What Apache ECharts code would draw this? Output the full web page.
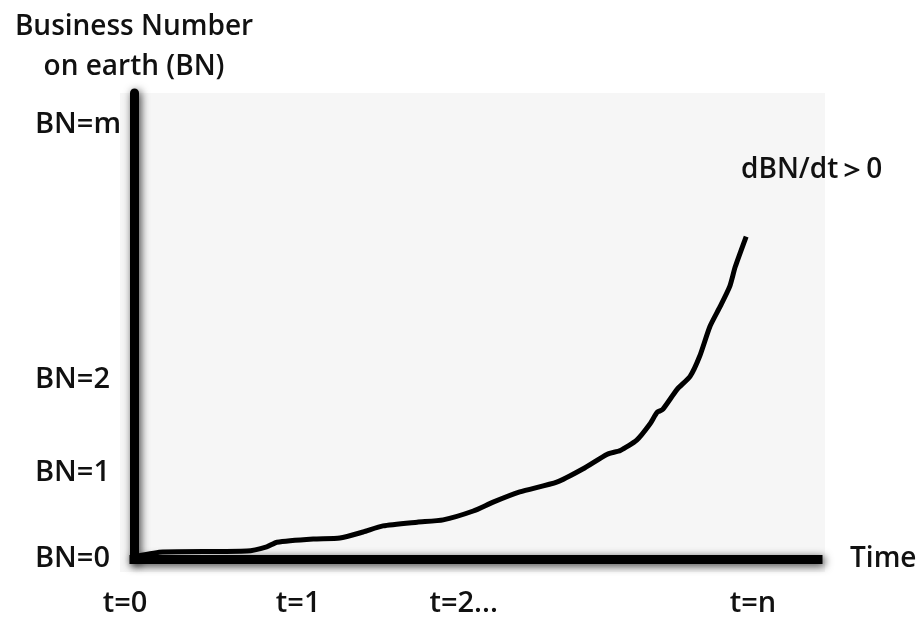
<!DOCTYPE html>
<html>
<head>
<meta charset="utf-8">
<script src="https://cdn.jsdelivr.net/npm/echarts@6/dist/echarts.min.js"></script>
<style>
html,body{margin:0;padding:0;background:#fff;}
#chart{width:922px;height:618px;}
</style>
</head>
<body>
<div id="chart"></div>
<script>
// Curve: time (0..100 scale) and business number (0..100 scale)
var timeValues = [0.4, 4.2, 16.5, 19.4, 20.9, 26.2, 30.1, 33.5, 36.4, 41.4, 45.2, 49.6, 52.5, 56.4, 61.8, 65.6, 69.2, 71.1, 73.5, 75.4, 76.5, 77.3, 79.4, 81.3, 82.7, 84.2, 85.7, 87.1, 87.9, 89.5];
var bnValues   = [0.6, 1.5, 1.7, 2.6, 3.6, 4.3, 4.5, 5.8, 7.1, 7.9, 8.4, 10.3, 12.2, 14.4, 16.5, 19.3, 22.5, 23.3, 25.5, 28.9, 31.5, 32.1, 36.4, 39.2, 43.5, 49.9, 54.2, 58.5, 62.7, 69.2];

// Tick labels
var xTickValues = [0, 24, 48.2, 90.5];
var xTickLabels = ['t=0', 't=1', 't=2...', 't=n'];
var yTickValues = [0, 18.6, 38.5, 93.1];
var yTickLabels = ['BN=0', 'BN=1', 'BN=2', 'BN=m'];

var annotation = 'dBN/dt\uFF1E0';

var seriesData = timeValues.map(function (t, i) { return [t, bnValues[i]]; });

var font = "'Open Sans', 'Noto Sans', sans-serif";
var axisShadow = {
  color: '#000', width: 9,
  shadowBlur: 8, shadowColor: 'rgba(0,0,0,0.75)', shadowOffsetX: 2, shadowOffsetY: 2
};

var chart = echarts.init(document.getElementById('chart'), null, {renderer: 'canvas'});
chart.setOption({
  backgroundColor: '#ffffff',
  animation: false,
  grid: {left: 134, right: 104, top: 93, bottom: 58, containLabel: false},
  graphic: [
    {type: 'rect', z: -10, silent: true, shape: {x: 120, y: 93, width: 705, height: 479}, style: {fill: '#f6f6f6'}},
    {type: 'text', left: 741, top: 156, silent: true,
     style: {text: annotation, font: '600 28px ' + font, fill: '#111'}}
  ],
  xAxis: {
    type: 'value', min: 0, max: 100,
    name: 'Time', nameLocation: 'end', nameGap: 32,
    nameTextStyle: {fontFamily: font, fontSize: 28, fontWeight: 600, color: '#111', verticalAlign: 'middle', padding: [0, 0, 22, 0]},
    axisLine: {show: true, lineStyle: Object.assign({cap: 'square'}, axisShadow)},
    axisTick: {show: false},
    splitLine: {show: false},
    axisLabel: {
      customValues: xTickValues,
      margin: 30,
      fontFamily: font, fontSize: 29, fontWeight: 600, color: '#111',
      formatter: function (v) {
        var i = xTickValues.indexOf(v);
        var s = xTickLabels[i];
        return i === 0 ? '{a|' + s + '}' : s;
      },
      rich: {a: {fontFamily: font, fontSize: 29, fontWeight: 600, color: '#111', padding: [0, 18, 0, 0]}}
    }
  },
  yAxis: {
    type: 'value', min: 0, max: 100,
    name: 'Business Number\non earth (BN)', nameLocation: 'end', nameGap: 6,
    nameTextStyle: {fontFamily: font, fontSize: 28, fontWeight: 600, color: '#111', align: 'center', verticalAlign: 'bottom', lineHeight: 40},
    axisLine: {show: true, lineStyle: axisShadow},
    axisTick: {show: false},
    splitLine: {show: false},
    axisLabel: {
      customValues: yTickValues,
      margin: 99, align: 'left',
      fontFamily: font, fontSize: 29, fontWeight: 600, color: '#111',
      formatter: function (v) { return yTickLabels[yTickValues.indexOf(v)]; }
    }
  },
  series: [{
    type: 'line',
    data: seriesData,
    showSymbol: false,
    smooth: 0.2,
    lineStyle: {color: '#000', width: 5},
    z: 3
  }]
});
</script>
</body>
</html>
